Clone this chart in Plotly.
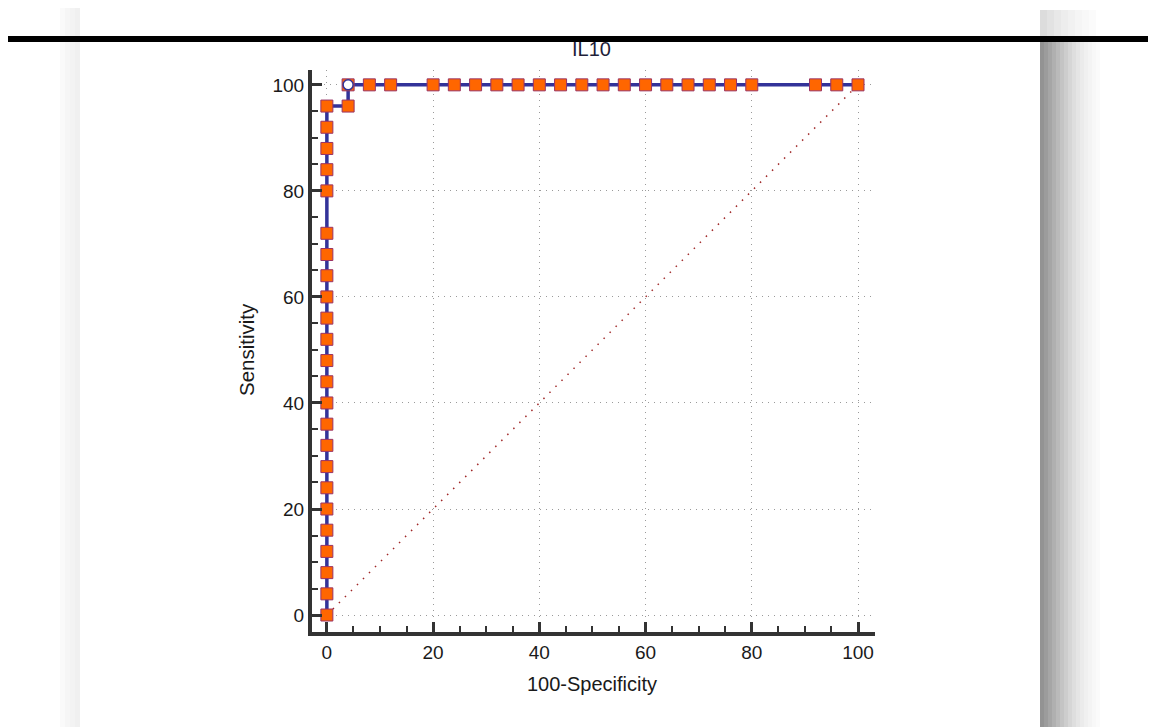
import plotly.graph_objects as go

# ROC curve data (100-Specificity, Sensitivity)
roc_x = [0, 0, 0, 0, 0, 0, 0, 0, 0, 0, 0, 0, 0, 0, 0, 0, 0, 0, 0, 0, 0, 0, 0, 0,
         4, 4, 8, 12, 20, 24, 28, 32, 36, 40, 44, 48, 52, 56, 60, 64, 68, 72, 76, 80,
         92, 96, 100]
roc_y = [0, 4, 8, 12, 16, 20, 24, 28, 32, 36, 40, 44, 48, 52, 56, 60, 64, 68, 72,
         80, 84, 88, 92, 96,
         96, 100, 100, 100, 100, 100, 100, 100, 100, 100, 100, 100, 100, 100, 100,
         100, 100, 100, 100, 100, 100, 100, 100]
# optimal criterion point
crit_x = [4]
crit_y = [100]
diag_x = [0, 100]
diag_y = [0, 100]
tick_vals = [0, 20, 40, 60, 80, 100]
tick_text = ["0", "20", "40", "60", "80", "100"]
title_text = "IL10"
x_title = "100-Specificity"
y_title = "Sensitivity"

W, H = 1156, 727
OFF = 8  # page body margin
L, R, T, B = 312 - OFF, 875 - OFF, 70 - OFF, 632 - OFF


def px(x):
    return (x - OFF - L) / (R - L)


def py(y):
    return (B - (y - OFF)) / (B - T)


fig = go.Figure()
fig.add_trace(go.Scatter(x=diag_x, y=diag_y, mode="lines",
                         line=dict(color="#a02828", width=1.5, dash="1.5px,7px"),
                         hoverinfo="skip", showlegend=False))
fig.add_trace(go.Scatter(x=roc_x, y=roc_y, mode="lines+markers",
                         line=dict(color="#333399", width=3.5),
                         marker=dict(symbol="square", size=12, color="#ff6600",
                                     line=dict(color="#993366", width=1)),
                         showlegend=False))
fig.add_trace(go.Scatter(x=crit_x, y=crit_y, mode="markers",
                         marker=dict(symbol="circle", size=10, color="white",
                                     line=dict(color="#333399", width=1.5)),
                         showlegend=False))

shapes = []
# top light gray band
for i, c in enumerate(["#ededed", "#f2f2f2", "#f7f7f7"]):
    shapes.append(dict(type="rect", xref="paper", yref="paper", x0=px(60), x1=px(1060),
                       y0=py(8 - i * 2.5), y1=py(0), fillcolor=c, line=dict(width=0), layer="below"))
# left soft shadow
for i, c in enumerate(["#fafafa", "#f6f6f6", "#f3f3f3", "#f0f0f0"]):
    shapes.append(dict(type="rect", xref="paper", yref="paper", x0=px(60 + i * 5), x1=px(80),
                       y0=py(727 + OFF), y1=py(8), fillcolor=c, line=dict(width=0), layer="below"))
# right shadow gradient (below rule line)
grads = ["#939393", "#9c9c9c", "#a6a6a6", "#b0b0b0", "#bababa", "#c4c4c4", "#cdcdcd",
         "#d6d6d6", "#dedede", "#e5e5e5", "#ebebeb", "#f0f0f0", "#f4f4f4", "#f8f8f8", "#fbfbfb"]
step = 4
for i, c in enumerate(grads):
    shapes.append(dict(type="rect", xref="paper", yref="paper", x0=px(1040 + i * step),
                       x1=px(1040 + (i + 1) * step),
                       y0=py(727 + OFF), y1=py(42), fillcolor=c, line=dict(width=0), layer="below"))
# right shadow above rule line (lighter)
grads_top = ["#dcdcdc", "#e2e2e2", "#e8e8e8", "#ededed", "#f1f1f1", "#f5f5f5", "#f8f8f8", "#fbfbfb"]
for i, c in enumerate(grads_top):
    shapes.append(dict(type="rect", xref="paper", yref="paper", x0=px(1040 + i * 7),
                       x1=px(1040 + (i + 1) * 7),
                       y0=py(36), y1=py(10), fillcolor=c, line=dict(width=0), layer="below"))
# card
shapes.append(dict(type="rect", xref="paper", yref="paper", x0=px(80), x1=px(1040), y0=py(727 + OFF), y1=py(8),
                   fillcolor="white", line=dict(width=0), layer="below"))
# black rule line
shapes.append(dict(type="rect", xref="paper", yref="paper", x0=px(5), x1=px(1156 + OFF), y0=py(42), y1=py(36),
                   fillcolor="black", line=dict(width=0), layer="above"))

font_family = "Liberation Sans, Arial"
annotations = [
    dict(text=title_text, xref="paper", yref="paper", x=px(591), y=py(49), showarrow=False,
         font=dict(family=font_family, size=20, color="#1f1f3a"), xanchor="center", yanchor="middle"),
    dict(text=x_title, xref="paper", yref="paper", x=px(592), y=py(684), showarrow=False,
         font=dict(family=font_family, size=20, color="#1a1a1a"), xanchor="center", yanchor="middle"),
    dict(text=y_title, xref="paper", yref="paper", x=px(246), y=py(350), showarrow=False, textangle=-90,
         font=dict(family=font_family, size=20.5, color="#1a1a1a"), xanchor="center", yanchor="middle"),
]

axis_common = dict(
    showline=True, linewidth=4, linecolor="#333333", mirror=False,
    ticks="inside", ticklen=10, tickwidth=3, tickcolor="#333333",
    tickvals=tick_vals, ticktext=tick_text,
    tickfont=dict(family=font_family, size=19, color="#1a1a1a"),
    showgrid=True, gridcolor="#9a9a9a", griddash="1px,5px", gridwidth=1,
    zeroline=False,
    minor=dict(dtick=5, ticks="inside", ticklen=6, tickwidth=1.5, tickcolor="#333333", showgrid=False),
    fixedrange=True,
)

fig.update_layout(
    width=W, height=H,
    margin=dict(l=L, r=W - R, t=T, b=H - B),
    paper_bgcolor="white", plot_bgcolor="rgba(0,0,0,0)",
    xaxis=dict(range=[-2.8, 103.2], **axis_common),
    yaxis=dict(range=[-3.2, 102.8], **axis_common),
    shapes=shapes, annotations=annotations,
    showlegend=False,
)

fig.write_html("out.html")
